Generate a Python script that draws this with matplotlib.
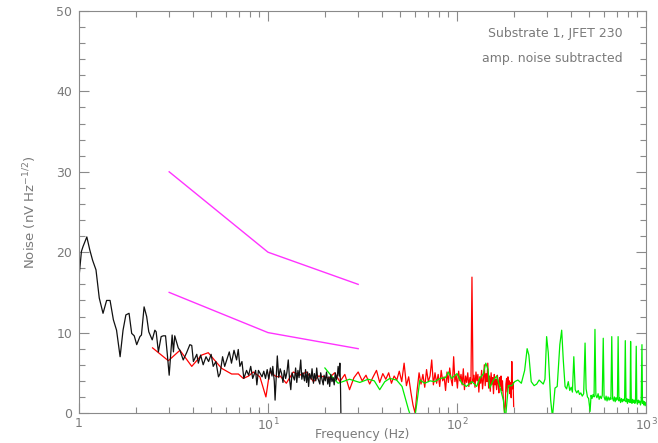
import numpy as np
import matplotlib
matplotlib.use('Agg')
import matplotlib.pyplot as plt
from matplotlib.ticker import LogLocator, MultipleLocator, FixedFormatter, FixedLocator

# black: low-frequency spectrum
blackFreq = [1.00, 1.03, 1.05, 1.10, 1.14, 1.18, 1.23, 1.28, 1.34, 1.40, 1.46, 1.52, 1.58, 1.65,
             1.71, 1.77, 1.84, 1.90, 1.96, 2.02, 2.10, 2.14, 2.21, 2.28, 2.34, 2.44, 2.52, 2.56,
             2.63, 2.72, 2.79, 2.87, 2.93, 3.00, 3.11, 3.16, 3.21, 3.35, 3.42, 3.56, 3.71, 3.86,
             3.95, 4.03, 4.20, 4.28, 4.40, 4.54, 4.70, 4.85, 5.00, 5.13, 5.30, 5.47, 5.58, 5.75,
             5.90, 6.05, 6.24, 6.41, 6.61, 6.82, 6.96, 7.10, 7.28, 7.45, 7.70, 7.90, 8.10, 8.30,
             8.60, 8.73, 8.90, 9.10, 9.30,
             9.5, 9.7, 9.9, 10.1, 10.3, 10.5, 10.6, 10.8, 10.9, 11.1, 11.2, 11.4, 11.6, 11.8,
             12.0, 12.2, 12.4, 12.6, 12.8, 13.0, 13.2, 13.4, 13.6, 13.8, 14.0, 14.2, 14.4, 14.6,
             14.9, 15.1, 15.3, 15.6, 15.8, 16.0, 16.2, 16.4, 16.6, 16.9, 17.1, 17.4, 17.6, 17.9,
             18.1, 18.3, 18.5, 18.8, 19.0, 19.3, 19.6, 19.8, 20.1, 20.4, 20.7, 21.0, 21.2, 21.5,
             21.8, 22.1, 22.4, 22.7, 23.0, 23.3, 23.5, 23.8, 24.0, 24.2, 24.3]
blackNoise = [16.9, 20.1, 20.7, 21.9, 20.3, 19.0, 17.8, 14.3, 12.4, 14.0, 14.0, 11.6, 10.3, 7.0,
              10.3, 12.2, 12.4, 9.9, 9.6, 8.5, 9.5, 9.7, 13.2, 12.0, 10.1, 9.1, 10.3, 10.1,
              7.6, 9.5, 9.6, 9.6, 7.4, 4.7, 9.7, 7.6, 9.6, 8.1, 7.8, 6.6, 7.5, 8.5,
              8.4, 6.4, 7.3, 6.2, 7.2, 6.0, 7.0, 6.4, 7.3, 5.8, 6.4, 4.5, 4.9, 7.0,
              5.8, 6.6, 7.6, 6.2, 7.8, 6.6, 7.9, 5.8, 6.4, 4.3, 5.3, 4.7, 5.8, 4.3,
              5.3, 3.5, 5.3, 4.9, 4.5,
              5.2, 4.3, 5.4, 4.2, 5.6, 4.6, 5.8, 3.9, 1.6, 5.2, 7.1, 4.4, 5.5, 4.9,
              3.8, 5.3, 4.3, 5.1, 6.6, 4.2, 2.9, 5.0, 4.5, 4.1, 5.6, 3.8, 5.3, 4.4,
              6.6, 4.2, 5.0, 4.0, 5.4, 3.8, 5.1, 3.3, 4.9, 4.2, 5.5, 3.7, 4.9, 4.0,
              5.6, 4.4, 4.1, 3.6, 5.0, 4.2, 3.5, 4.7, 4.0, 5.1, 3.6, 4.5, 3.3, 4.8,
              3.9, 4.4, 3.5, 5.0, 4.1, 4.7, 5.8, 4.6, 6.2, 3.0, 0.0]

# red: binned spectrum, coarse part then 1.5 Hz bins
redLowFreq = [2.45, 2.97, 3.42, 3.95, 4.45, 4.83, 5.2, 5.69, 6.42, 6.97, 7.4, 7.9, 8.35,
              9.06, 9.75, 10.2, 11.1, 11.6, 12.5, 13.6, 14.7, 16.0, 17.4, 18.5, 20.0]
redLowNoise = [8.1, 6.5, 7.8, 5.8, 7.2, 7.5, 6.6, 5.55, 4.85, 4.85, 4.3, 4.6, 5.1,
               4.5, 2.0, 5.1, 4.5, 4.6, 3.7, 5.1, 4.7, 5.1, 3.9, 4.6, 4.5]
redHighFreq = np.arange(21, 200, 1.5)
redHighNoise = [4.3, 5.0, 3.9, 4.8, 2.9, 4.4, 5.1, 4.0, 4.7, 3.6,
                4.5, 5.3, 3.8, 4.9, 4.2, 5.0, 3.7, 4.6, 4.1, 5.2,
                3.9, 6.2, 3.4, 4.5, 2.6, 1.0, 0.0, 2.8, 5.0, 3.6,
                4.8, 3.2, 5.4, 3.9, 4.6, 6.6, 3.5, 5.0, 3.7, 4.8,
                3.3, 5.3, 4.0, 4.5, 2.8, 5.1, 3.8, 5.6, 4.2, 3.4,
                7.0, 3.9, 4.7, 3.1, 5.2, 4.0, 4.8, 3.5, 5.5, 2.9,
                4.6, 3.8, 5.0, 3.3, 4.4, 3.6, 16.9, 3.9, 4.7, 3.2,
                5.1, 4.0, 4.8, 2.6, 4.5, 3.7, 5.3, 3.0, 4.2, 6.0,
                3.4, 4.9, 3.9, 6.2, 3.1, 4.6, 2.7, 5.0, 3.6, 4.4,
                2.4, 4.8, 3.5, 4.2, 2.9, 4.7, 3.8, 2.5, 4.4, 3.3,
                4.6, 2.8, 4.0, 2.1, 1.0, 0.0, 0.8, 3.6, 4.3, 2.6,
                4.5, 3.2, 4.0, 2.4, 3.8, 1.9, 6.4, 3.0, 3.8, 0.8]

# green: high-frequency spectrum
greenFreq = [20, 22.2, 23.5, 27, 30.6, 33.9, 36.5, 39, 41.5, 44.1, 47.9, 51.2, 55.4, 59,
             61.3, 63.6, 67.5, 72, 76.3, 81.3, 86.8, 90, 93.6, 100, 106, 112, 120, 127,
             132, 138, 142, 146, 149, 155, 162, 168, 176, 180, 187, 195, 202, 210, 219, 228,
             235, 240, 247, 256, 264, 272, 286, 292, 298, 304, 313, 320, 330, 339, 350, 358,
             365, 373, 380, 388, 395, 402, 408, 415, 422, 430, 438, 445, 452, 460, 468, 476,
             482, 490, 497, 506, 512, 518, 525, 531, 537, 543, 550, 558, 565, 572, 580, 587,
             594, 600, 608, 615, 622, 630, 638, 645, 652, 659, 666, 673, 680, 687, 694, 700,
             706, 712, 719, 726, 734, 742, 750, 757, 765, 771, 777, 784, 791, 798, 805, 812,
             818, 824, 829, 836, 843, 850, 858, 866, 873, 880, 888, 894, 901, 910, 918, 926,
             935, 943, 952, 958, 966, 974, 982, 990, 1000]
greenNoise = [5.6, 4.3, 3.7, 4.2, 3.8, 4.2, 4.0, 2.9, 3.9, 4.3, 4.1, 3.3, 0.4, -1.5,
              1.2, 4.1, 3.7, 4.0, 3.9, 4.3, 4.4, 5.1, 4.3, 4.9, 3.7, 3.3, 3.9, 3.3,
              4.3, 4.9, 6.2, 5.4, 3.1, 4.0, 4.6, 3.4, 1.6, -1.0, 3.4, 3.4, 3.9, 4.1, 3.7, 5.3,
              8.0, 7.2, 3.9, 3.4, 3.6, 4.1, 3.6, 4.2, 9.5, 7.5, 1.6, -0.5, 3.1, 3.3, 8.5, 10.3,
              6.6, 3.3, 3.0, 3.9, 2.8, 3.2, 2.6, 7.0, 2.9, 2.5, 2.8, 2.3, 2.5, 2.1, 2.4, 8.7,
              3.0, 2.0, 1.8, 0.2, 2.2, 1.8, 2.3, 2.0, 10.4, 2.2, 1.9, 2.4, 1.7, 2.1, 1.8, 2.2,
              9.3, 2.0, 1.6, 2.1, 1.5, 2.0, 1.6, 1.9, 1.7, 9.5, 1.8, 1.5, 2.0, 1.4, 1.9, 1.6,
              1.8, 9.5, 1.5, 1.9, 1.3, 1.8, 1.4, 1.7, 1.5, 1.9, 9.0, 1.4, 1.8, 1.2, 1.7, 1.4,
              1.6, 1.3, 8.9, 1.5, 1.2, 1.7, 1.3, 1.6, 1.2, 1.5, 8.3, 1.4, 1.1, 1.6, 1.3, 1.5,
              1.0, 1.4, 8.5, 1.2, 1.5, 1.0, 1.4, 0.9, 1.3]

# magenta reference lines
refFreq = [3, 10, 30]
refUpper = [30, 20, 16]
refLower = [15, 10, 8]

greyCol = '#8a8a8a'
textCol = '#7a7a7a'

fig = plt.figure(figsize=(6.58, 4.43), dpi=100)
ax = fig.add_axes([79/658, 30/443, 567/658, 402/443])

ax.plot(redLowFreq + list(redHighFreq), redLowNoise + redHighNoise, color='#ff0000', lw=0.9)
ax.plot(greenFreq, greenNoise, color='#00ee00', lw=0.9)
ax.plot(blackFreq, blackNoise, color='#111111', lw=0.9)
ax.plot(refFreq, refUpper, color='#ff33ff', lw=1.0)
ax.plot(refFreq, refLower, color='#ff33ff', lw=1.0)

ax.set_xscale('log')
ax.set_xlim(1, 1000)
ax.set_ylim(0, 50)

ax.xaxis.set_major_locator(FixedLocator([1, 10, 100, 1000]))
ax.xaxis.set_major_formatter(FixedFormatter(['1', r'$10^1$', r'$10^2$', r'$10^3$']))
ax.xaxis.set_minor_locator(LogLocator(base=10, subs=np.arange(2, 10)))
ax.xaxis.set_minor_formatter(FixedFormatter([]))
ax.yaxis.set_major_locator(MultipleLocator(10))
ax.yaxis.set_minor_locator(MultipleLocator(2))

ax.tick_params(which='both', direction='in', top=True, right=True, colors=greyCol,
               labelcolor=textCol, labelsize=9, width=0.8)
ax.tick_params(which='major', length=7.5, pad=5)
ax.tick_params(axis='x', which='major', pad=3)
ax.tick_params(which='minor', length=4)
for s in ax.spines.values():
    s.set_color(greyCol)
    s.set_linewidth(0.8)

ax.set_xlabel('Frequency (Hz)', color=textCol, fontsize=9, labelpad=-4)
ax.set_ylabel(r'Noise (nV Hz$^{-1/2}$)', color=textCol, fontsize=9.5, labelpad=12)

ax.text(0.959, 0.945, 'Substrate 1, JFET 230', transform=ax.transAxes, ha='right',
        va='center', color=textCol, fontsize=9)
ax.text(0.959, 0.881, 'amp. noise subtracted', transform=ax.transAxes, ha='right',
        va='center', color=textCol, fontsize=9)

fig.savefig('out.png', dpi=100)
